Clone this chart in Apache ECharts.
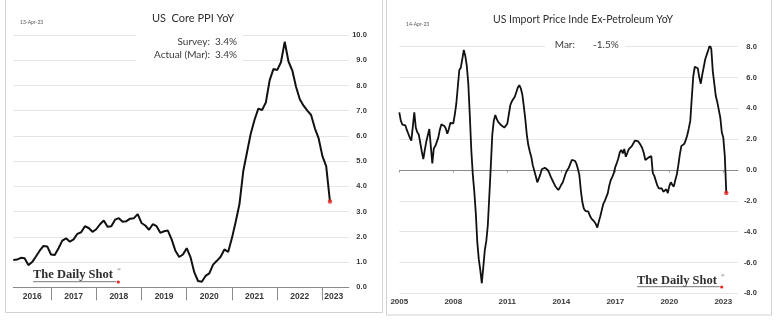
<!DOCTYPE html>
<html><head><meta charset="utf-8">
<script src="https://cdn.jsdelivr.net/npm/echarts/dist/echarts.min.js"></script>
<style>html,body{margin:0;padding:0;background:#fff}#c{width:780px;height:324px}</style>
</head><body><div id="c"></div>
<script>
// ---------- data ----------
const leftTitle = 'US  Core PPI YoY';
const leftDate = '13-Apr-23';
const leftNotes = ['Survey:  3.4%', 'Actual (Mar):  3.4%'];
const leftStart = [2016, 3], leftEnd = [2023, 8];
// monthly Core PPI YoY, 2016-03 .. 2023-03
const leftValues = [1.08,1.10,1.17,1.15,0.88,1.00,1.22,1.45,1.64,1.62,
  1.30,1.28,1.55,1.85,1.94,1.81,1.90,2.12,2.18,2.42,
  2.35,2.20,2.30,2.50,2.65,2.40,2.42,2.68,2.74,2.60,
  2.62,2.72,2.74,2.90,2.55,2.45,2.28,2.50,2.42,2.16,
  2.22,2.25,1.90,1.45,1.20,1.30,1.55,1.20,0.60,0.25,
  0.22,0.45,0.55,0.90,1.05,1.21,1.50,1.40,1.95,2.60,
  3.30,4.60,5.35,6.10,6.64,7.08,7.03,7.33,8.20,8.65,
  8.61,8.92,9.73,8.95,8.60,7.95,7.45,7.20,7.00,6.83,
  6.30,5.90,5.20,4.80,3.40];
const leftYearLabelAt = ['2016-08','2017-07','2018-07','2019-07','2020-07','2021-07','2022-07','2023-04'];
const leftYTicks = [0, 10, 1];

const rightTitle = 'US Import Price Inde Ex-Petroleum YoY';
const rightDate = '14-Apr-23';
const rightNote = ['Mar:', '-1.5%'];
const rightStart = [2005, 1], rightEnd = [2023, 11];
// monthly import prices ex-petroleum YoY, 2005-01 .. 2023-03
const rightValues = [
  3.74,3.20,2.95,2.95,2.90,2.60,2.35,2.10,1.90,2.80,3.74,2.75,
  2.45,2.30,1.75,1.20,0.71,1.30,1.84,2.25,2.66,1.55,0.43,1.40,
  1.55,1.60,2.10,2.60,2.96,2.90,2.85,2.70,2.35,2.65,3.05,3.10,
  3.03,3.60,4.30,5.40,6.49,6.64,7.20,7.79,7.40,6.75,5.60,3.55,
  1.30,-0.30,-1.40,-2.80,-4.70,-5.80,-6.50,-7.35,-6.30,-5.20,-4.60,-3.60,
  -1.70,0.25,2.30,3.20,3.57,3.30,3.10,3.00,2.90,2.82,2.75,2.68,
  3.00,3.60,4.20,4.45,4.60,4.75,5.05,5.35,5.50,5.30,4.90,4.15,
  3.30,2.30,1.62,1.20,0.85,0.30,-0.05,-0.40,-0.80,-0.90,-0.30,0.05,
  0.10,0.15,0.22,0.00,-0.20,-0.45,-0.65,-0.85,-1.05,-1.15,-1.30,-1.15,
  -0.95,-0.80,-0.50,-0.20,0.00,0.15,0.40,0.65,0.76,0.60,0.43,0.10,
  -0.30,-1.30,-2.06,-2.50,-2.65,-2.65,-2.70,-2.95,-3.14,-3.25,-3.35,-3.50,
  -3.74,-3.35,-3.00,-2.60,-2.20,-2.00,-1.95,-1.50,-1.00,-0.65,-0.45,-0.20,
  0.20,0.45,0.75,1.15,1.30,1.08,1.36,0.86,1.10,1.35,1.45,1.55,
  1.62,1.90,1.95,1.88,1.75,1.60,1.41,1.10,0.65,0.75,0.80,0.90,
  0.90,-0.20,-0.38,-0.43,-1.00,-1.19,-1.20,-1.20,-1.41,-1.30,-1.25,-1.50,
  -1.05,-0.80,-0.95,-1.08,-0.65,-0.30,0.30,1.00,1.55,1.65,1.70,1.95,
  2.27,2.70,3.20,4.70,6.10,6.70,6.78,6.60,6.00,5.60,6.20,6.70,
  7.20,7.50,7.79,8.11,7.85,6.40,5.60,4.80,4.40,3.90,3.40,2.45,
  2.10,0.90,-1.50];
const rightYearLabels = ['2005','2008','2011','2014','2017','2020','2023'];
const rightYTicks = [-8, 8, 2];

const logoText = 'The Daily Shot';

// ---------- helpers ----------
function monthRange(s, e) {
  const out = [];
  let y = s[0], m = s[1];
  while (y < e[0] || (y === e[0] && m <= e[1])) {
    out.push(y + '-' + String(m).padStart(2, '0'));
    m++; if (m > 12) { m = 1; y++; }
  }
  return out;
}
const leftCats = monthRange(leftStart, leftEnd);
const rightCats = monthRange(rightStart, rightEnd);

const labelFont = '"Liberation Sans", Arial, sans-serif';
const txtFont = 'Lato, "Noto Sans", sans-serif';
const gridColor = '#e6e6e6';
const labelColor = '#383838';

function txt(x, y, text, font, fill, align, valign) {
  return {type: 'text', x: x, y: y, silent: true, z: 100,
    style: {text: text, font: font, fill: fill || '#333', textAlign: align || 'left',
      textVerticalAlign: valign || 'middle', align: align || 'left', verticalAlign: valign || 'middle'}};
}
function logo(x, y, lineY, endX) {
  return [
    txt(x, y, logoText, 'bold 12.5px "Liberation Serif", "DejaVu Serif", serif', '#2e2e2e'),
    txt(endX - 1, y - 5, '\u00AE', '5px "Liberation Serif", serif', '#444'),
    {type: 'line', silent: true, z: 100, shape: {x1: x, y1: lineY, x2: endX - 2, y2: lineY},
      style: {stroke: '#555', lineWidth: 0.8}},
    {type: 'circle', silent: true, z: 101, shape: {cx: endX, cy: lineY + 0.3, r: 1.6}, style: {fill: '#e8251f'}}
  ];
}

const lastL = leftValues.length - 1, lastR = rightValues.length - 1;

const option = {
  backgroundColor: '#ffffff',
  animation: false,
  grid: [
    {left: 13.3, top: 35, width: 335.5, height: 252.3},
    {left: 399.3, top: 46.7, width: 339, height: 246.6}
  ],
  xAxis: [
    {type: 'category', gridIndex: 0, data: leftCats, boundaryGap: false,
      axisLine: {show: true, lineStyle: {color: '#8a8a8a', width: 1}},
      axisTick: {show: true, length: 13, interval: (i, v) => v.slice(5) === '01', lineStyle: {color: '#8a8a8a', width: 1}},
      axisLabel: {interval: (i, v) => leftYearLabelAt.indexOf(v) >= 0, formatter: v => v.slice(0, 4),
        fontFamily: labelFont, fontSize: 8.5, fontWeight: 'bold', color: labelColor, margin: 5},
      splitLine: {show: false}},
    {type: 'category', gridIndex: 1, data: rightCats, boundaryGap: false,
      axisLine: {show: false},
      axisTick: {show: true, length: 2.5, interval: (i, v) => v.slice(5) === '01' && rightYearLabels.indexOf(v.slice(0, 4)) >= 0,
        lineStyle: {color: '#999', width: 1}},
      axisLabel: {interval: (i, v) => v.slice(5) === '01' && rightYearLabels.indexOf(v.slice(0, 4)) >= 0,
        formatter: v => v.slice(0, 4),
        fontFamily: labelFont, fontSize: 8, fontWeight: 'bold', color: labelColor, margin: 4},
      splitLine: {show: false}}
  ],
  yAxis: [
    {type: 'value', gridIndex: 0, position: 'right', min: leftYTicks[0], max: leftYTicks[1], interval: leftYTicks[2],
      axisLine: {show: false}, axisTick: {show: false},
      axisLabel: {formatter: v => v.toFixed(1), align: 'right', margin: 18,
        fontFamily: labelFont, fontSize: 7.5, fontWeight: 'bold', color: labelColor},
      splitLine: {show: true, lineStyle: {color: gridColor, width: 1}}},
    {type: 'value', gridIndex: 1, position: 'right', min: rightYTicks[0], max: rightYTicks[1], interval: rightYTicks[2],
      axisLine: {show: false}, axisTick: {show: false},
      axisLabel: {formatter: v => v.toFixed(1), align: 'right', margin: 18.5,
        fontFamily: labelFont, fontSize: 7.5, fontWeight: 'bold', color: labelColor},
      splitLine: {show: true, lineStyle: {color: gridColor, width: 1}}}
  ],
  series: [
    {type: 'line', xAxisIndex: 0, yAxisIndex: 0, data: leftValues, symbol: 'none',
      lineStyle: {color: '#111', width: 2}, z: 5},
    {type: 'scatter', xAxisIndex: 0, yAxisIndex: 0, data: [[leftCats[lastL], leftValues[lastL]]],
      symbolSize: 4.5, itemStyle: {color: '#e8251f'}, z: 6},
    {type: 'line', xAxisIndex: 1, yAxisIndex: 1, data: rightValues, symbol: 'none',
      lineStyle: {color: '#111', width: 1.8}, z: 5,
      markLine: {silent: true, symbol: ['none', 'none'], label: {show: false},
        lineStyle: {color: '#8a8a8a', width: 1.2, type: 'solid'}, data: [{yAxis: 0}], z: 3}},
    {type: 'scatter', xAxisIndex: 1, yAxisIndex: 1, data: [[rightCats[lastR], rightValues[lastR]]],
      symbolSize: 4.5, itemStyle: {color: '#e8251f'}, z: 6}
  ],
  graphic: [].concat(
    [
      {type: 'rect', silent: true, z: 1, shape: {x: 5.5, y: -2, width: 377, height: 314.5},
        style: {fill: 'none', stroke: '#d2d2d2', lineWidth: 1}},
      {type: 'rect', silent: true, z: 1, shape: {x: 386.5, y: -2, width: 385, height: 317},
        style: {fill: 'none', stroke: '#d2d2d2', lineWidth: 1}},
      txt(193, 18, leftTitle, '11px ' + txtFont, '#2f2f2f', 'center'),
      txt(583, 20, rightTitle, '10.5px ' + txtFont, '#2f2f2f', 'center'),
      txt(20, 22, leftDate, '5px ' + txtFont, '#555'),
      txt(406, 24, rightDate, '5px ' + txtFont, '#555'),
      {type: 'rect', silent: true, z: 50, shape: {x: 136, y: 30, width: 107, height: 34}, style: {fill: '#fff'}},
      txt(237, 42, leftNotes[0], '10px ' + txtFont, '#3a3a3a', 'right'),
      txt(237, 55, leftNotes[1], '10px ' + txtFont, '#3a3a3a', 'right'),
      {type: 'rect', silent: true, z: 50, shape: {x: 545, y: 38, width: 80, height: 17}, style: {fill: '#fff'}},
      txt(575, 45, rightNote[0], '10px ' + txtFont, '#3a3a3a', 'right'),
      txt(593, 45, rightNote[1], '10px ' + txtFont, '#3a3a3a', 'left')
    ],
    logo(33, 275, 281.7, 118.3),
    logo(637, 280.5, 286.7, 721.7)
  )
};
const chart = echarts.init(document.getElementById('c'), null, {renderer: 'canvas'});
chart.setOption(option);
</script></body></html>
